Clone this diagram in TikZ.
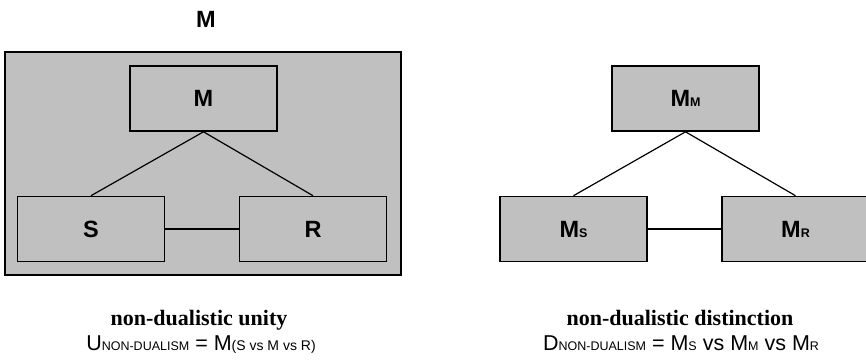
\documentclass[tikz,border=0pt]{standalone}
\usepackage{fontspec}
\setmainfont{Liberation Serif}
\newfontfamily\arialike{Liberation Sans}
\definecolor{boxgray}{HTML}{C0C0C0}
\newcommand{\labelfont}{\fontsize{23.5}{26}\selectfont\arialike\bfseries}
\newcommand{\formulafont}{\fontsize{21.5}{25}\selectfont\arialike}
\newcommand{\smallsub}[1]{{\fontsize{12.5}{15}\selectfont #1}}
\newcommand{\widesub}[1]{{\fontsize{14}{16}\selectfont #1}}
\begin{document}
\begin{tikzpicture}[x=1pt,y=-1pt,
  part/.style={draw=black, fill=boxgray, line width=1.6pt, minimum width=147pt,
    minimum height=65pt, inner sep=0pt, font=\labelfont},
  link/.style={line width=1.2pt},
  caption/.style={font=\fontsize{22}{26}\selectfont\bfseries, anchor=base},
  formula/.style={font=\formulafont, anchor=base, inner sep=0pt}]
\useasboundingbox (0,0) rectangle (866,360);
\clip (0,0) rectangle (866,360);
\fill[white] (0,0) rectangle (866,360);

% left: unity, enclosed in M
\node[font=\labelfont] (mtitle) at (206,19) {M};
\node[draw=black, fill=boxgray, line width=1.6pt, minimum width=396pt, minimum height=223pt,
  inner sep=0pt] (outer) at (203,163.5) {};
\node[part] (m) at (203.5,98.5) {M};
\node[part] (s) at (91,229) {S};
\node[part] (r) at (313,229) {R};
\draw[link] (m.south) -- (s.north);
\draw[link] (m.south) -- (r.north);
\draw[link] (s.east) -- (r.west);

% right: distinction
\node[part] (mm) at (685.5,98.5) {M\smallsub{M}};
\node[part] (ms) at (573.5,229) {M\smallsub{S}};
\node[part] (mr) at (795.5,229) {M\smallsub{R}};
\draw[link] (mm.south) -- (ms.north);
\draw[link] (mm.south) -- (mr.north);
\draw[link] (ms.east) -- (mr.west);

% captions
\node[caption] (cu) at (199,325) {non-dualistic unity};
\node[formula] (fu) at (201,350) {U\smallsub{NON-DUALISM} = M\widesub{(S vs M vs R)}};
\node[caption] (cd) at (680,325) {non-dualistic distinction};
\node[formula] (fd) at (681,350) {D\smallsub{NON-DUALISM} = M\smallsub{S} vs M\smallsub{M} vs M\smallsub{R}};
\end{tikzpicture}
\end{document}
